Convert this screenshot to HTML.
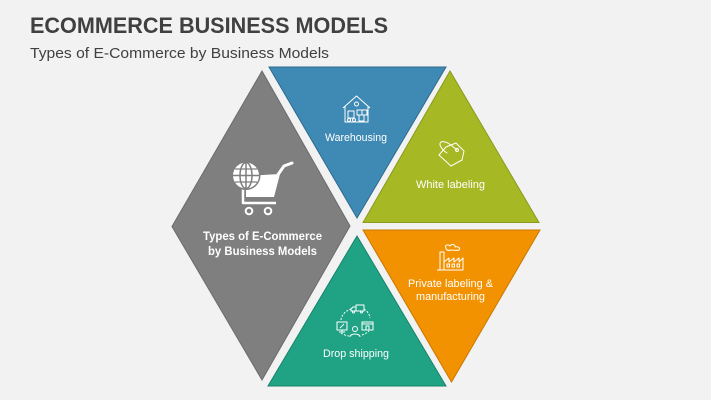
<!DOCTYPE html>
<html>
<head>
<meta charset="utf-8">
<style>
  html, body { margin:0; padding:0; background:#f2f2f2; }
  body { width:711px; height:400px; overflow:hidden; }
  svg { display:block; }
  text { font-family: "Liberation Sans", sans-serif; }
</style>
</head>
<body>
<svg width="711" height="400" viewBox="0 0 711 400" xmlns="http://www.w3.org/2000/svg">
  <rect width="711" height="400" fill="#f2f2f2"/>

  <!-- Titles -->
  <text x="30" y="33" font-size="22" font-weight="bold" fill="#404040" textLength="358" lengthAdjust="spacingAndGlyphs">ECOMMERCE BUSINESS MODELS</text>
  <text x="30" y="58" font-size="14.5" fill="#404040" textLength="299" lengthAdjust="spacingAndGlyphs">Types of E-Commerce by Business Models</text>

  <!-- Shapes -->
  <polygon points="262,71 350,226 262,380 172,226.5" fill="#7f7f7f" stroke="#6b6b6b" stroke-width="1"/>
  <polygon points="269,67 446,67 357,218" fill="#3f8ab4" stroke="#2e6b8e" stroke-width="1"/>
  <polygon points="450,71 363,222.5 539,222.5" fill="#a6b824" stroke="#8a9a1c" stroke-width="1"/>
  <polygon points="363,230 540,230 451.5,382" fill="#f39200" stroke="#c97800" stroke-width="1"/>
  <polygon points="357,236 268,386 446,386" fill="#1fa384" stroke="#17846a" stroke-width="1"/>

  <!-- Cart icon -->
  <g>
    <polygon points="246,176 280,174 274,197 246,197" fill="#ffffff"/>
    <polyline points="277,176 284,166 292,163" fill="none" stroke="#ffffff" stroke-width="3" stroke-linecap="round" stroke-linejoin="round"/>
    <polyline points="243,189 243,203 276,203" fill="none" stroke="#ffffff" stroke-width="2.5" stroke-linejoin="round"/>
    <circle cx="249" cy="211" r="3.3" fill="none" stroke="#ffffff" stroke-width="2"/>
    <circle cx="268" cy="211" r="3.3" fill="none" stroke="#ffffff" stroke-width="2"/>
    <circle cx="246" cy="175.5" r="14.5" fill="#7f7f7f"/>
    <circle cx="246" cy="175.5" r="13" fill="#ffffff"/>
    <ellipse cx="246" cy="175.5" rx="6" ry="13" fill="none" stroke="#7f7f7f" stroke-width="1.5"/>
    <line x1="246" y1="162.5" x2="246" y2="188.5" stroke="#7f7f7f" stroke-width="1.5"/>
    <line x1="233" y1="175.5" x2="259" y2="175.5" stroke="#7f7f7f" stroke-width="1.5"/>
    <line x1="235" y1="169" x2="257" y2="169" stroke="#7f7f7f" stroke-width="1.3"/>
    <line x1="235" y1="182" x2="257" y2="182" stroke="#7f7f7f" stroke-width="1.3"/>
  </g>

  <!-- Warehouse icon -->
  <g fill="none" stroke="#ffffff" stroke-width="1" stroke-linejoin="round">
    <polyline points="343,108 356.5,96 370,108"/>
    <polyline points="345,106 345,122 368,122 368,106"/>
    <circle cx="356.5" cy="104" r="2"/>
    <rect x="357" y="110" width="5" height="5"/>
    <rect x="362" y="110" width="5" height="5"/>
    <rect x="359" y="115" width="5" height="6"/>
    <rect x="348" y="111" width="6" height="7"/>
    <circle cx="349" cy="120" r="1.5"/>
    <circle cx="354" cy="120" r="1.5"/>
  </g>

  <!-- Tag icon -->
  <g fill="none" stroke="#ffffff" stroke-width="1" stroke-linejoin="round" stroke-linecap="round">
    <path d="M446,147 L456,143 L464,151 L462,160 L451,166 L439,155 Z"/>
    <circle cx="457" cy="150" r="1.5"/>
    <path d="M457,150 C452,146 446,140 441,142 C438,144 442,150 447,153"/>
  </g>

  <!-- Factory icon -->
  <g fill="none" stroke="#ffffff" stroke-width="1" stroke-linejoin="round">
    <path d="M446,248 C444,245 448,244 450,246 C452,243 456,245 455,247 C458,246 461,248 459,250 C456,251 452,250 450,250 C448,251 446,250 446,248 Z"/>
    <rect x="440" y="252" width="4" height="18"/>
    <polyline points="444,262 449,258 449,262 454,258 454,262 459,258 459,262 463,258 463,270 437,270"/>
    <rect x="447" y="264" width="2.5" height="3"/>
    <rect x="452" y="264" width="2.5" height="3"/>
    <rect x="457" y="264" width="2.5" height="3"/>
  </g>

  <!-- Drop shipping icon -->
  <g fill="none" stroke="#ffffff" stroke-width="1" stroke-linejoin="round">
    <path d="M341,320 A17,13 0 0 1 351,309" stroke-dasharray="2,1.5"/>
    <path d="M364,309 A17,13 0 0 1 370,318" stroke-dasharray="2,1.5"/>
    <path d="M341,333 A17,13 0 0 0 349,336" stroke-dasharray="2,1.5"/>
    <path d="M362,335 A17,13 0 0 0 369,331" stroke-dasharray="2,1.5"/>
    <rect x="356" y="305" width="8" height="6"/>
    <polyline points="356,307 353,307 351,309 351,311 356,311"/>
    <circle cx="353.5" cy="312" r="1"/>
    <circle cx="361.5" cy="312" r="1"/>
    <rect x="337" y="322" width="10" height="8"/>
    <line x1="342" y1="330" x2="342" y2="332"/>
    <line x1="339" y1="332" x2="345" y2="332"/>
    <line x1="340" y1="328" x2="344" y2="324"/>
    <rect x="362" y="322" width="11" height="8"/>
    <line x1="362" y1="324" x2="373" y2="324"/>
    <rect x="366" y="326" width="3" height="4"/>
    <circle cx="355" cy="329" r="2.5"/>
    <path d="M350,337 C350,333 360,333 360,337"/>
  </g>

  <!-- Labels -->
  <g fill="#ffffff" text-anchor="middle">
    <text x="356" y="141" font-size="11" textLength="62" lengthAdjust="spacingAndGlyphs">Warehousing</text>
    <text x="450.5" y="188" font-size="11" textLength="69" lengthAdjust="spacingAndGlyphs">White labeling</text>
    <text x="262.5" y="240" font-size="12" font-weight="bold" textLength="119" lengthAdjust="spacingAndGlyphs">Types of E-Commerce</text>
    <text x="262.5" y="255" font-size="12" font-weight="bold" textLength="109" lengthAdjust="spacingAndGlyphs">by Business Models</text>
    <text x="450.5" y="287" font-size="11" textLength="85" lengthAdjust="spacingAndGlyphs">Private labeling &amp;</text>
    <text x="450.5" y="300" font-size="11" textLength="69" lengthAdjust="spacingAndGlyphs">manufacturing</text>
    <text x="356" y="357" font-size="11" textLength="66" lengthAdjust="spacingAndGlyphs">Drop shipping</text>
  </g>
</svg>
</body>
</html>
